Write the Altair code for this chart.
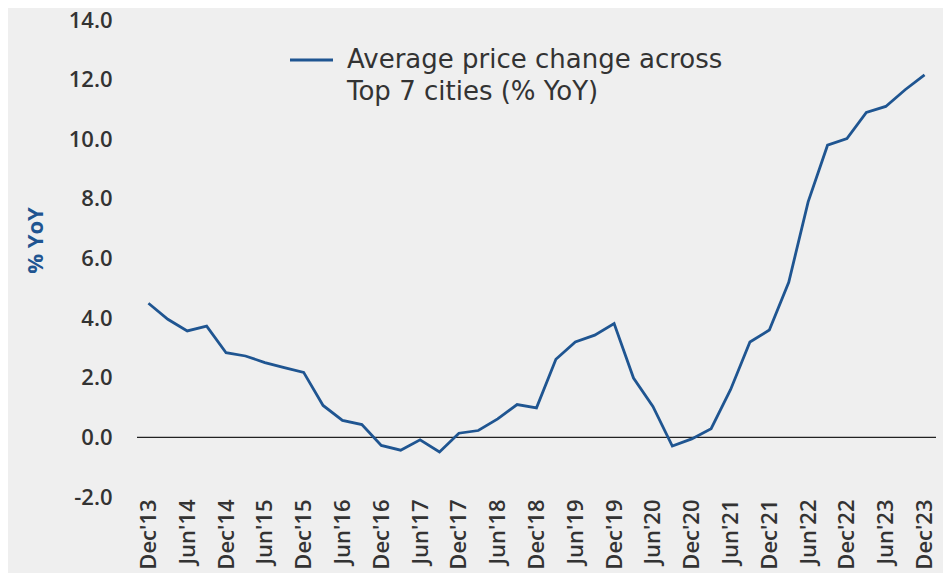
import altair as alt
import pandas as pd

quarters = [
    "Dec'13", "Mar'14", "Jun'14", "Sep'14", "Dec'14", "Mar'15", "Jun'15", "Sep'15",
    "Dec'15", "Mar'16", "Jun'16", "Sep'16", "Dec'16", "Mar'17", "Jun'17", "Sep'17",
    "Dec'17", "Mar'18", "Jun'18", "Sep'18", "Dec'18", "Mar'19", "Jun'19", "Sep'19",
    "Dec'19", "Mar'20", "Jun'20", "Sep'20", "Dec'20", "Mar'21", "Jun'21", "Sep'21",
    "Dec'21", "Mar'22", "Jun'22", "Sep'22", "Dec'22", "Mar'23", "Jun'23", "Sep'23",
    "Dec'23",
]
price_change = [
    4.50, 3.96, 3.57, 3.73, 2.84, 2.73, 2.51, 2.34,
    2.18, 1.07, 0.57, 0.43, -0.27, -0.43, -0.08, -0.49,
    0.14, 0.23, 0.62, 1.10, 0.99, 2.62, 3.20, 3.43,
    3.82, 1.99, 1.04, -0.29, -0.05, 0.29, 1.60, 3.20,
    3.60, 5.20, 7.90, 9.80, 10.02, 10.90, 11.10, 11.66,
    12.16,
]
tick_labels = [q for q in quarters if q.startswith("Dec") or q.startswith("Jun")]
y_ticks = [-2, 0, 2, 4, 6, 8, 10, 12, 14]
legend_lines = ["Average price change across", "Top 7 cities (% YoY)"]

LINE_BLUE = "#1f5591"
TEXT = "#333333"
FONT = "Open Sans"

df = pd.DataFrame({"quarter": quarters, "value": price_change})

x_enc = alt.X(
    "quarter:O",
    sort=quarters,
    scale=alt.Scale(type="point", padding=0.59),
    axis=alt.Axis(
        values=tick_labels,
        title=None,
        labelAngle=270,
        labelAlign="right",
        labelBaseline="middle",
        labelPadding=2,
        labelFontSize=22,
        labelFont=FONT,
        labelFontWeight=600,
        labelColor=TEXT,
        domain=False,
        ticks=False,
        grid=False,
        labelOverlap=False,
    ),
)
y_enc = alt.Y(
    "value:Q",
    scale=alt.Scale(domain=[-2, 14], nice=False, zero=False),
    axis=alt.Axis(
        values=y_ticks,
        labelExpr="datum.value < 0 ? '-' + format(-datum.value, '.1f') : format(datum.value, '.1f')",
        title="% YoY",
        titleFont=FONT,
        titleFontSize=22,
        titleFontWeight="bold",
        titleColor=LINE_BLUE,
        titleAngle=270,
        titleX=-102,
        titleY=220,
        titleAlign="center",
        titleBaseline="middle",
        labelPadding=25,
        labelFontSize=22,
        labelFont=FONT,
        labelFontWeight=600,
        labelColor=TEXT,
        domain=False,
        ticks=False,
        grid=False,
    ),
)

line = alt.Chart(df).mark_line(color=LINE_BLUE, strokeWidth=2.8).encode(x=x_enc, y=y_enc)

zero = alt.Chart(pd.DataFrame({"z": [0]})).mark_rule(color="#222222", strokeWidth=1.4).encode(
    y=alt.Y("z:Q")
)

leg_sym = alt.Chart(pd.DataFrame({"t": [legend_lines[0]]})).mark_rule(
    color=LINE_BLUE, strokeWidth=3
).encode(x=alt.value(153), x2=alt.value(196), y=alt.value(40))
leg_text1 = alt.Chart(pd.DataFrame({"t": [legend_lines[0]]})).mark_text(
    align="left", baseline="middle", font="DejaVu Sans", fontSize=26, color=TEXT
).encode(x=alt.value(210), y=alt.value(40), text="t:N")
leg_text2 = alt.Chart(pd.DataFrame({"t": [legend_lines[1]]})).mark_text(
    align="left", baseline="middle", font="DejaVu Sans", fontSize=26, color=TEXT
).encode(x=alt.value(210), y=alt.value(72), text="t:N")

chart = (
    alt.layer(zero, line, leg_sym, leg_text1, leg_text2)
    .properties(
        width=799,
        height=477,
        background="#efefef",
        padding={"left": 129, "top": 12, "right": 7, "bottom": 76},
        autosize=alt.AutoSizeParams(type="none"),
    )
    .configure_view(stroke=None)
)

chart.save("out.html", embed_options={"renderer": "svg", "actions": False})
